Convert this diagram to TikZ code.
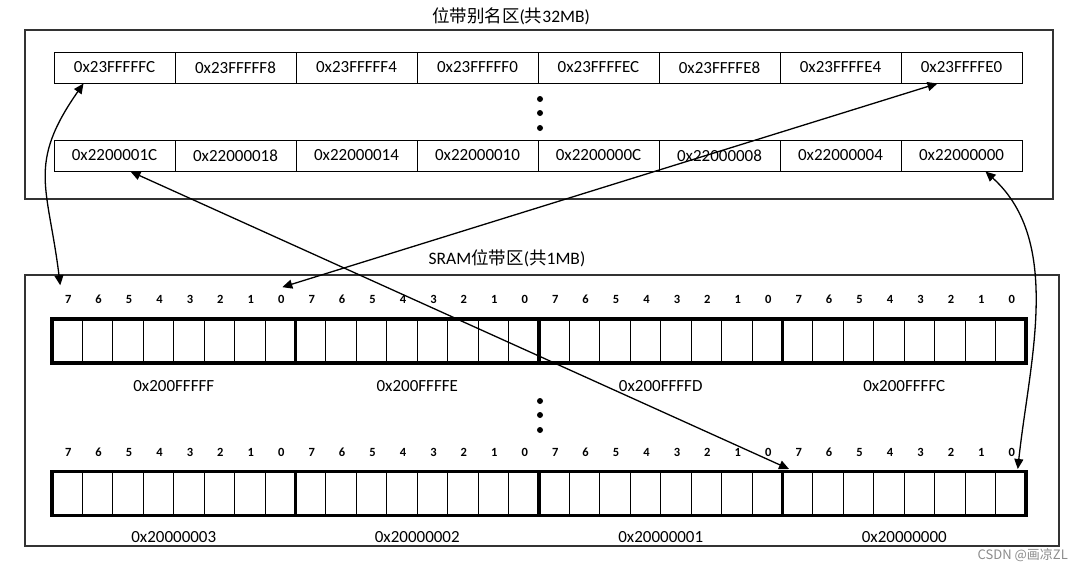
\documentclass[tikz,border=0pt]{standalone}
\usepackage{fontspec}
\setmainfont{Carlito}
\newfontfamily\cjk{Noto Sans CJK SC}
\usetikzlibrary{arrows.meta,positioning,calc}

\begin{document}
\begin{tikzpicture}[
  x=1pt,y=-1pt,
  font=\fontsize{17}{20}\selectfont,
  >={Triangle[length=10pt,width=9pt]},
  region/.style={draw=black!80,line width=1.3pt,inner sep=0pt},
  addr/.style={draw,line width=1pt,minimum width=121pt,minimum height=31pt,inner sep=0pt},
  bitcell/.style={draw,line width=1pt,minimum width=30.4375pt,minimum height=44pt,inner sep=0pt},
  byte/.style={draw,line width=3.6pt,minimum width=243.5pt,minimum height=44pt,inner sep=0pt},
  bitnum/.style={font=\fontsize{12.5}{14}\selectfont\bfseries,inner sep=0pt},
  title/.style={inner sep=0pt,font=\fontsize{17.5}{20}\selectfont},
  link/.style={<->,line width=1.3pt},
]
\useasboundingbox[fill=white] (0,0) rectangle (1084,571);

% alias region
\node[region,minimum width=1028pt,minimum height=169pt] (alias) at (539,114.5) {};
\node[title] (aliastitle) at (511,16) {{\cjk 位带别名区}({\cjk 共}32MB)};
\foreach \i/\t in {0/0x23FFFFFC,1/0x23FFFFF8,2/0x23FFFFF4,3/0x23FFFFF0,4/0x23FFFFEC,5/0x23FFFFE8,6/0x23FFFFE4,7/0x23FFFFE0}
  \node[addr] (top\i) at ({54+121*(\i+0.5)},67.5) {\t};
\foreach \i/\t in {0/0x2200001C,1/0x22000018,2/0x22000014,3/0x22000010,4/0x2200000C,5/0x22000008,6/0x22000004,7/0x22000000}
  \node[addr] (bot\i) at ({54+121*(\i+0.5)},155.5) {\t};
\foreach \y in {99,113,128} \fill (540,\y) circle (3pt);

% SRAM region
\node[region,minimum width=1034pt,minimum height=271pt] (sram) at (542,410.5) {};
\node[title] (sramtitle) at (507,258) {SRAM{\cjk 位带区}({\cjk 共}1MB)};
\foreach \y/\r in {341/A,493.5/B}{
  \foreach \b in {0,...,3}{
    \foreach \k in {0,...,7}{
      \pgfmathtruncatemacro\n{7-\k}
      \node[bitcell] (\r\b\k) at ({52+243.5*\b+30.4375*(\k+0.5)},\y) {};
      \node[bitnum] (n\r\b\k) at ($(\r\b\k.north)+(1,-19)$) {\n};
    }
    \node[byte] (byte\r\b) at ({52+243.5*(\b+0.5)},\y) {};
  }
}
\foreach \b/\t in {0/0x200FFFFF,1/0x200FFFFE,2/0x200FFFFD,3/0x200FFFFC}
  \node (labA\b) at ($(byteA\b.south)+(0,21)$) {\t};
\foreach \b/\t in {0/0x20000003,1/0x20000002,2/0x20000001,3/0x20000000}
  \node (labB\b) at ($(byteB\b.south)+(0,20)$) {\t};
\foreach \y in {401,415,430} \fill (540,\y) circle (3pt);

% links
\draw[link] ($(top0.south)+(-31,0)$) to[out=-125,in=97,looseness=1.25] ($(nA00.north)+(-8,-10)$);
\draw[link] ($(top7.south)+(-24,0)$) -- ($(nA07.north)+(1,-8)$);
\draw[link] ($(bot0.south)+(16,0)$) -- ($(B30.north west)+(7,-2)$);
\draw[link] ($(bot7.south)+(24,0)$) to[out=-42,in=84,looseness=0.9] ($(B37.north)+(7,-2)$);

\node[font=\cjk\fontsize{13}{15}\selectfont,text=black!45,anchor=east,inner sep=0pt] (mark) at (1068,555) {CSDN @画凉ZL};
\end{tikzpicture}
\end{document}
